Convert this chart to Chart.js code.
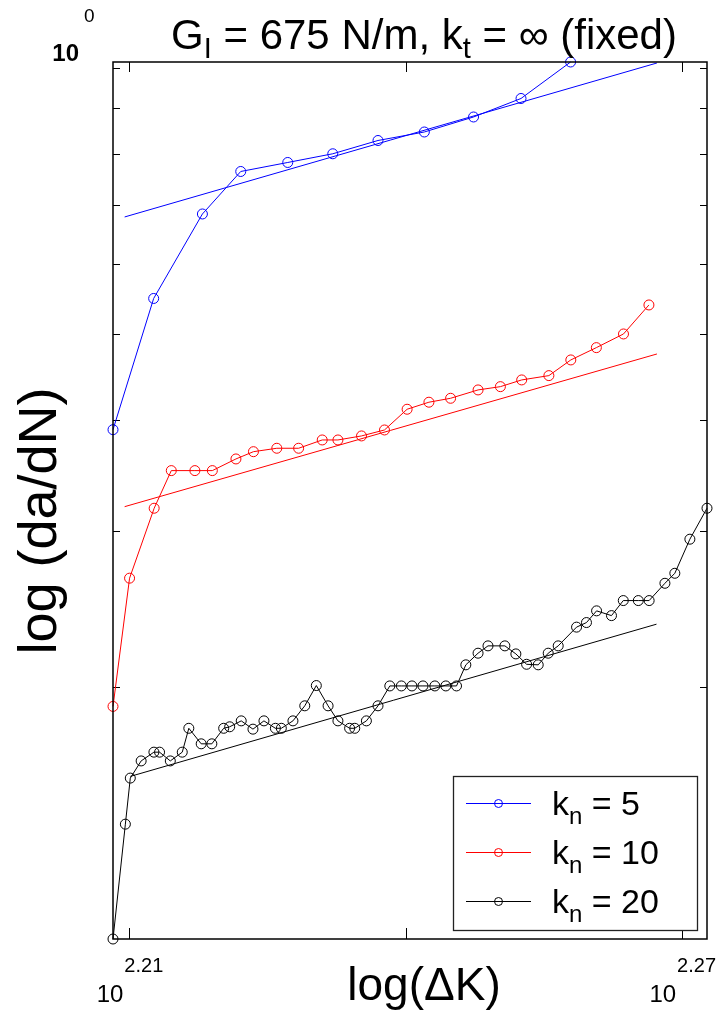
<!DOCTYPE html>
<html>
<head>
<meta charset="utf-8">
<script src="https://cdn.jsdelivr.net/npm/chart.js@4.4.1/dist/chart.umd.min.js"></script>
<style>
html,body{margin:0;padding:0;background:#fff;}
canvas{display:block;}
</style>
</head>
<body>
<canvas id="c" width="720" height="1010"></canvas>
<script>
// ---- data (ΔK, da/dN) ----
const seriesNames = ['5', '10', '20'];
const seriesColors = ['#0000ff', '#ff0000', '#000000'];

const dK_kn5 = [161.52, 163.17, 165.17, 166.76, 168.73, 170.64, 172.58, 174.59, 176.75, 178.86, 181.09];
const dadN_kn5 = [0.3901, 0.5488, 0.6837, 0.7636, 0.7817, 0.7996, 0.8277, 0.8462, 0.8799, 0.9233, 1.0152];

const dK_kn10 = [161.52, 162.19, 163.19, 163.89, 164.86, 165.58, 166.56, 167.29, 168.27, 169.19, 170.19, 170.86, 171.87,
  172.86, 173.84, 174.79, 175.74, 176.95, 177.94, 178.89, 180.11, 181.10, 182.26, 183.50, 184.67];
const dadN_kn10 = [0.1899, 0.2651, 0.3180, 0.3507, 0.3507, 0.3507, 0.3615, 0.3684, 0.3717, 0.3717, 0.3798, 0.3798, 0.3838,
  0.3898, 0.4114, 0.4190, 0.4233, 0.4326, 0.4363, 0.4440, 0.4490, 0.4677, 0.4829, 0.5004, 0.5396];

const dK_kn20 = [161.52, 162.02, 162.22, 162.66, 163.18, 163.41, 163.85, 164.34, 164.61, 165.12,
  165.56, 166.05, 166.30, 166.78, 167.27, 167.73, 168.21, 168.46, 168.95, 169.45,
  169.94, 170.44, 170.86, 171.36, 171.58, 172.08, 172.58, 173.09, 173.59, 174.05,
  174.53, 175.05, 175.53, 176.00, 176.41, 176.95, 177.39, 178.14, 178.63, 179.11,
  179.63, 180.08, 180.53, 181.36, 181.81, 182.27, 182.95, 183.49, 184.18, 184.68,
  185.41, 185.87, 186.57, 187.37];
const dadN_kn20 = [0.1037, 0.1398, 0.1576, 0.1648, 0.1686, 0.1686, 0.1648, 0.1686, 0.1794, 0.1723,
  0.1723, 0.1794, 0.1801, 0.1829, 0.1790, 0.1829, 0.1794, 0.1794, 0.1829, 0.1902,
  0.2005, 0.1902, 0.1829, 0.1794, 0.1794, 0.1829, 0.1902, 0.2003, 0.2003, 0.2003,
  0.2003, 0.2003, 0.2003, 0.2003, 0.2116, 0.2181, 0.2223, 0.2223, 0.2177, 0.2119,
  0.2116, 0.2181, 0.2223, 0.2334, 0.2362, 0.2435, 0.2405, 0.2501, 0.2501, 0.2501,
  0.2616, 0.2685, 0.2934, 0.3180];

// power-law fit lines (end points)
const fitK_kn5 = [161.99, 185.04];
const fitY_kn5 = [0.6784, 1.0126];
const fitK_kn10 = [161.99, 185.04];
const fitY_kn10 = [0.3193, 0.4750];
const fitK_kn20 = [162.22, 185.02];
const fitY_kn20 = [0.1583, 0.2352];

// ticks
const xTickExponents = [2.21, 2.24, 2.27];
const xTickLabels = ['2.21', '', '2.27'];
const yTickValues = [0.2, 0.3, 0.4, 0.5, 0.6, 0.7, 0.8, 0.9, 1.0];
const yTickExponentLabel = '0';

const FONT = "'Liberation Sans', Arial, Helvetica, sans-serif";

function pts(xs, ys) { return xs.map((x, i) => ({ x: x, y: ys[i] })); }

const allX = [].concat(dK_kn5, dK_kn10, dK_kn20);
const allY = [].concat(dadN_kn5, dadN_kn10, dadN_kn20);
const xMin = Math.min(...allX), xMax = Math.max(...allX);
const yMin = Math.min(...allY), yMax = Math.max(...allY);

function dataSet(xs, ys, color) {
  return {
    data: pts(xs, ys), showLine: true, borderColor: color, borderWidth: 1,
    pointStyle: 'circle', pointRadius: 5, pointBorderWidth: 1, pointBorderColor: color,
    pointBackgroundColor: 'rgba(0,0,0,0)', pointHoverRadius: 5, tension: 0, clip: false
  };
}
function fitSet(xs, ys, color) {
  return {
    data: pts(xs, ys), showLine: true, borderColor: color, borderWidth: 1,
    pointRadius: 0, pointHoverRadius: 0, tension: 0, clip: false
  };
}

function richWidth(ctx, parts) {
  let w = 0;
  for (const p of parts) { ctx.font = p.size + 'px ' + FONT; w += ctx.measureText(p.t).width; }
  return w;
}
function drawRich(ctx, parts, x, y) {
  let cx = x;
  for (const p of parts) {
    ctx.font = p.size + 'px ' + FONT;
    ctx.fillText(p.t, cx, y + (p.dy || 0));
    cx += ctx.measureText(p.t).width;
  }
}

const axesPlugin = {
  id: 'matlabAxes',
  beforeDatasetsDraw(chart) {
    const ctx = chart.ctx, a = chart.chartArea;
    const xs = chart.scales.x, ys = chart.scales.y;
    ctx.save();
    ctx.strokeStyle = '#000';
    ctx.lineWidth = 1;
    for (const v of yTickValues) {
      const py = Math.round(ys.getPixelForValue(v)) + 0.5;
      if (py < a.top - 1 || py > a.bottom + 1) continue;
      ctx.beginPath();
      ctx.moveTo(a.left, py); ctx.lineTo(a.left + 7, py);
      ctx.moveTo(a.right, py); ctx.lineTo(a.right - 7, py);
      ctx.stroke();
    }
    for (const e of xTickExponents) {
      const px = Math.round(xs.getPixelForValue(Math.pow(10, e))) + 0.5;
      ctx.beginPath();
      ctx.moveTo(px, a.bottom); ctx.lineTo(px, a.bottom - 11);
      ctx.moveTo(px, a.top); ctx.lineTo(px, a.top + 10);
      ctx.stroke();
    }
    ctx.restore();
  },
  afterDraw(chart) {
    const ctx = chart.ctx, a = chart.chartArea;
    const xs = chart.scales.x, ys = chart.scales.y;
    ctx.save();
    ctx.strokeStyle = '#000';
    ctx.lineWidth = 1.5;
    ctx.strokeRect(a.left, a.top, a.right - a.left, a.bottom - a.top);

    ctx.fillStyle = '#000';
    ctx.textBaseline = 'alphabetic';
    xTickExponents.forEach((e, i) => {
      if (!xTickLabels[i]) return;
      const px = xs.getPixelForValue(Math.pow(10, e));
      ctx.textAlign = 'right';
      ctx.font = '24px ' + FONT;
      ctx.fillText('10', px - 6, a.bottom + 63);
      ctx.textAlign = 'left';
      ctx.font = '20px ' + FONT;
      ctx.fillText(xTickLabels[i], px - 5, a.bottom + 33);
    });
    const p1 = ys.getPixelForValue(1.0);
    ctx.textAlign = 'right';
    ctx.font = 'bold 24px ' + FONT;
    ctx.fillText('10', a.left - 34, p1 - 7);
    ctx.textAlign = 'left';
    ctx.font = '19px ' + FONT;
    ctx.fillText(yTickExponentLabel, a.left - 29, p1 - 46);

    ctx.textAlign = 'center';
    ctx.font = '46px ' + FONT;
    ctx.fillText('log(\u0394K)', 424, 1000);
    ctx.save();
    ctx.translate(41, 521);
    ctx.rotate(-Math.PI / 2);
    ctx.textBaseline = 'middle';
    ctx.font = '54px ' + FONT;
    ctx.fillText('log (da/dN)', 0, 0);
    ctx.restore();

    ctx.textAlign = 'left';
    ctx.textBaseline = 'alphabetic';
    const tParts = [
      { t: 'G', size: 42 }, { t: 'I', size: 29, dy: 9 },
      { t: ' = 675 N/m, k', size: 42 }, { t: 't', size: 29, dy: 9 },
      { t: ' = \u221E (fixed)', size: 42 }
    ];
    const tw = richWidth(ctx, tParts);
    drawRich(ctx, tParts, 424 - tw / 2, 49);

    const lx = 453.5, ly = 776.5, lw = 244, lh = 154;
    ctx.fillStyle = '#fff';
    ctx.fillRect(lx, ly, lw, lh);
    ctx.strokeStyle = '#222';
    ctx.lineWidth = 1.3;
    ctx.strokeRect(lx, ly, lw, lh);
    seriesNames.forEach((n, i) => {
      const ry = 803 + i * 49;
      const c = seriesColors[i];
      ctx.strokeStyle = c;
      ctx.lineWidth = 1;
      ctx.beginPath();
      ctx.moveTo(466, ry + 0.5); ctx.lineTo(531, ry + 0.5);
      ctx.stroke();
      ctx.beginPath();
      ctx.arc(498.5, ry + 0.5, 4, 0, Math.PI * 2);
      ctx.stroke();
      ctx.fillStyle = '#000';
      drawRich(ctx, [
        { t: 'k', size: 34 }, { t: 'n', size: 24, dy: 9 }, { t: ' = ' + n, size: 34 }
      ], 552, ry + 12);
    });
    ctx.restore();
  }
};

new Chart(document.getElementById('c'), {
  type: 'scatter',
  data: {
    datasets: [
      dataSet(dK_kn5, dadN_kn5, seriesColors[0]),
      fitSet(fitK_kn5, fitY_kn5, seriesColors[0]),
      dataSet(dK_kn10, dadN_kn10, seriesColors[1]),
      fitSet(fitK_kn10, fitY_kn10, seriesColors[1]),
      dataSet(dK_kn20, dadN_kn20, seriesColors[2]),
      fitSet(fitK_kn20, fitY_kn20, seriesColors[2])
    ]
  },
  options: {
    responsive: false,
    animation: false,
    layout: { padding: { left: 113, right: 13, top: 62, bottom: 71 } },
    scales: {
      x: { type: 'logarithmic', min: xMin, max: xMax, display: false },
      y: { type: 'logarithmic', min: yMin, max: yMax, display: false }
    },
    plugins: { legend: { display: false }, tooltip: { enabled: false } },
    events: []
  },
  plugins: [axesPlugin]
});
</script>
</body>
</html>
